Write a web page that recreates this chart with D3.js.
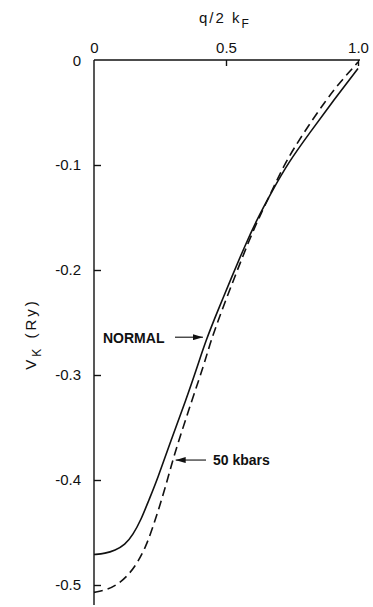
<!DOCTYPE html>
<html lang="en">
<head>
<meta charset="utf-8">
<title>V_K vs q/2kF</title>
<script src="https://cdn.jsdelivr.net/npm/d3@7"></script>
<style>
  body { margin: 0; background: #fff; }
  svg text { font-family: "Liberation Sans", Arial, sans-serif; fill: #111; }
  .curve { fill: none; stroke: #111; stroke-width: 1.6; }
</style>
</head>
<body>
<script>
// q/2kF and V_K (Ry)
var normalQ = [0, 0.042, 0.080, 0.117, 0.148, 0.178, 0.208, 0.239, 0.292, 0.348, 0.394, 0.424, 0.470, 0.523, 0.568, 0.617, 0.670, 0.735, 0.818, 0.909, 1.0];
var normalV = [-0.471, -0.470, -0.467, -0.462, -0.452, -0.438, -0.419, -0.400, -0.362, -0.324, -0.290, -0.267, -0.238, -0.206, -0.179, -0.152, -0.127, -0.098, -0.069, -0.038, -0.008];

var kbarQ = [0, 0.045, 0.087, 0.129, 0.167, 0.197, 0.223, 0.246, 0.269, 0.292, 0.314, 0.371, 0.417, 0.443, 0.485, 0.534, 0.576, 0.621, 0.670, 0.723, 0.795, 0.879, 0.936, 1.0];
var kbarV = [-0.507, -0.505, -0.500, -0.491, -0.478, -0.463, -0.445, -0.427, -0.408, -0.387, -0.368, -0.324, -0.290, -0.267, -0.238, -0.206, -0.179, -0.152, -0.127, -0.098, -0.069, -0.038, -0.020, -0.002];

var xTicks = [0, 0.5, 1.0];
var xTickLabels = ["0", "0.5", "1.0"];
var yTicks = [-0.1, -0.2, -0.3, -0.4, -0.5];
var yTickLabels = ["-0.1", "-0.2", "-0.3", "-0.4", "-0.5"];

var w = 373, h = 607;

var x = d3.scaleLinear().domain([0, 1]).range([94, 358]);
var y = d3.scaleLinear().domain([0, -0.5]).range([60, 585]);

var svg = d3.select("body").append("svg")
    .attr("width", w)
    .attr("height", h);

// axes: top x axis, left y axis, ticks pointing inward
var xAxis = d3.axisTop(x)
    .tickValues(xTicks)
    .tickFormat(function(d, i) { return xTickLabels[i]; })
    .tickSizeInner(-6)
    .tickSizeOuter(0)
    .tickPadding(7);

var gx = svg.append("g")
    .attr("transform", "translate(0," + y(0) + ")")
    .call(xAxis);
gx.select(".domain").attr("d", "M" + x(0) + ",0H" + (x(1) + 2));
gx.selectAll(".tick").filter(function(d) { return d === 0; }).select("line").remove();

var yAxis = d3.axisLeft(y)
    .tickValues(yTicks)
    .tickFormat(function(d, i) { return yTickLabels[i]; })
    .tickSizeInner(-7)
    .tickSizeOuter(0)
    .tickPadding(13);

var gy = svg.append("g")
    .attr("transform", "translate(" + x(0) + ",0)")
    .call(yAxis);
gy.select(".domain").attr("d", "M0," + y(0) + "V" + (y(-0.5) + 20));

svg.selectAll(".domain, .tick line").attr("stroke", "#111").attr("stroke-width", 1.4);
svg.selectAll(".tick text").attr("font-size", 15).attr("fill", "#111")
    .attr("font-family", "Liberation Sans, Arial, sans-serif");

// "0" at left of origin
svg.append("text")
    .attr("x", x(0) - 13)
    .attr("y", y(0) + 6)
    .attr("text-anchor", "end")
    .attr("font-size", 15)
    .text("0");

// axis titles
var xt = svg.append("text")
    .attr("x", 199)
    .attr("y", 23)
    .attr("font-size", 15)
    .attr("letter-spacing", 2);
xt.append("tspan").text("q/2 k");
xt.append("tspan").attr("dy", 5).attr("font-size", 12).text("F");

var yt = svg.append("text")
    .attr("transform", "translate(36,334) rotate(-90)")
    .attr("text-anchor", "middle")
    .attr("font-size", 15)
    .attr("letter-spacing", 3);
yt.append("tspan").text("V");
yt.append("tspan").attr("dy", 5).attr("font-size", 12).text("K");
yt.append("tspan").attr("dy", -5).text(" (Ry)");

// curves
var line = d3.line()
    .x(function(d) { return x(d[0]); })
    .y(function(d) { return y(d[1]); })
    .curve(d3.curveBasis);

svg.append("path")
    .datum(d3.zip(normalQ, normalV))
    .attr("class", "curve")
    .attr("d", line);

svg.append("path")
    .datum(d3.zip(kbarQ, kbarV))
    .attr("class", "curve")
    .attr("stroke-dasharray", "9,5")
    .attr("d", line);

// annotations
svg.append("defs").append("marker")
    .attr("id", "arrow")
    .attr("viewBox", "0 0 10 6")
    .attr("refX", 10).attr("refY", 3)
    .attr("markerWidth", 10).attr("markerHeight", 6)
    .attr("markerUnits", "userSpaceOnUse")
    .attr("orient", "auto")
    .append("path")
    .attr("d", "M0,0L10,3L0,6Z")
    .attr("fill", "#111");

svg.append("text")
    .attr("x", 103).attr("y", y(-0.264) + 6)
    .attr("font-size", 14).attr("font-weight", "bold")
    .text("NORMAL");
svg.append("line")
    .attr("x1", 175).attr("y1", y(-0.264))
    .attr("x2", x(0.424) - 3).attr("y2", y(-0.264))
    .attr("stroke", "#111").attr("stroke-width", 1.1)
    .attr("marker-end", "url(#arrow)");

svg.append("text")
    .attr("x", 213).attr("y", y(-0.381) + 5)
    .attr("font-size", 14).attr("font-weight", "bold")
    .text("50  kbars");
svg.append("line")
    .attr("x1", 206).attr("y1", y(-0.381))
    .attr("x2", x(0.298) + 3).attr("y2", y(-0.381))
    .attr("stroke", "#111").attr("stroke-width", 1.1)
    .attr("marker-end", "url(#arrow)");
</script>
</body>
</html>
